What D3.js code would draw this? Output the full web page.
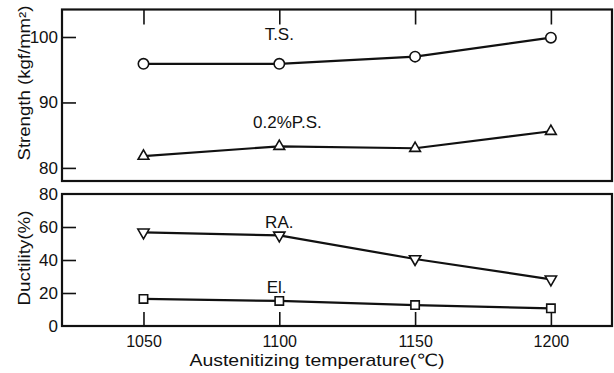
<!DOCTYPE html>
<html>
<head>
<meta charset="utf-8">
<script src="https://cdn.jsdelivr.net/npm/d3@7"></script>
<style>
  body { margin: 0; background: #fff; }
  svg { display: block; }
  text { font-family: "Liberation Sans", "DejaVu Sans", sans-serif; fill: #111; }
</style>
</head>
<body>
<div id="chart"></div>
<script>
const temps = [1050, 1100, 1150, 1200];
const tsValues = [95.9, 95.9, 97.0, 99.9];
const psValues = [81.8, 83.3, 83.0, 85.6];
const raValues = [56.8, 54.9, 40.6, 28.3];
const elValues = [16.4, 15.2, 12.7, 10.7];
const strengthTicks = [80, 90, 100];
const ductilityTicks = [0, 20, 40, 60, 80];

const width = 614, height = 373;
const left = 62, right = 612;

const svg = d3.select("#chart").append("svg")
  .attr("width", width)
  .attr("height", height);

const x = d3.scaleLinear().domain([1020, 1222.5]).range([left, right]);
const yTop = d3.scaleLinear().domain([78, 104.2]).range([181, 9.5]);
const yBot = d3.scaleLinear().domain([0, 80]).range([326, 194]);

// cadres des deux panneaux
function frame(y0, y1) {
  svg.append("rect")
    .attr("x", left).attr("y", y0)
    .attr("width", right - left).attr("height", y1 - y0)
    .attr("fill", "none").attr("stroke", "#111").attr("stroke-width", 2.2);
}
frame(9.5, 181);
frame(194, 326);

// panneau haut : graduations en haut, vers le bas
svg.append("g")
  .attr("transform", "translate(0,9.5)")
  .call(d3.axisBottom(x).tickValues(temps).tickSize(15).tickFormat(""))
  .call(g => g.select(".domain").remove())
  .call(g => g.selectAll("line").attr("stroke", "#111").attr("stroke-width", 1.6));

// panneau bas : graduations en bas, vers le haut
const xAxisBot = svg.append("g")
  .attr("transform", "translate(0,326)")
  .call(d3.axisTop(x).tickValues(temps).tickSize(14).tickFormat(d3.format("d")))
  .call(g => g.select(".domain").remove())
  .call(g => g.selectAll("line").attr("stroke", "#111").attr("stroke-width", 1.6));
xAxisBot.selectAll("text")
  .attr("y", 21).attr("dy", 0)
  .attr("font-size", 16)
  .style("font-family", '"Liberation Sans", sans-serif')
  .attr("fill", "#111");

function yAxis(scale, ticks, innerTicks) {
  const g = svg.append("g")
    .attr("transform", `translate(${left},0)`)
    .call(d3.axisRight(scale).tickValues(ticks).tickSize(14).tickFormat(""))
    .call(g => g.select(".domain").remove());
  g.selectAll("line")
    .attr("stroke", "#111").attr("stroke-width", 1.6)
    .attr("display", d => innerTicks.includes(d) ? null : "none");
  svg.append("g").selectAll("text")
    .data(ticks)
    .join("text")
    .attr("x", left - 4)
    .attr("y", d => scale(d) + 6)
    .attr("text-anchor", "end")
    .attr("font-size", 17)
    .text(d => d);
}
yAxis(yTop, strengthTicks, strengthTicks);
yAxis(yBot, ductilityTicks, [20, 40, 60]);

function series(scale, values) {
  const pts = temps.map((t, i) => [x(t), scale(values[i])]);
  svg.append("path")
    .attr("d", d3.line()(pts))
    .attr("fill", "none")
    .attr("stroke", "#111")
    .attr("stroke-width", 2.2);
  return pts;
}

const tsPts = series(yTop, tsValues);
const psPts = series(yTop, psValues);
const raPts = series(yBot, raValues);
const elPts = series(yBot, elValues);

function markers(pts, type, size, angle = 0) {
  svg.append("g").selectAll("path")
    .data(pts)
    .join("path")
    .attr("transform", d => `translate(${d[0]},${d[1]}) rotate(${angle})`)
    .attr("d", d3.symbol().type(type).size(size))
    .attr("fill", "#fff")
    .attr("stroke", "#111")
    .attr("stroke-width", 1.6);
}
markers(tsPts, d3.symbolCircle, 85);
markers(psPts, d3.symbolTriangle, 50);
markers(raPts, d3.symbolTriangle, 55, 180);
markers(elPts, d3.symbolSquare, 70);

const labels = [
  { text: "T.S.", x: 1100, v: 99.6, s: yTop },
  { text: "0.2%P.S.", x: 1103, v: 86.1, s: yTop },
  { text: "RA.", x: 1100, v: 59.5, s: yBot },
  { text: "El.", x: 1099, v: 19.9, s: yBot }
];
svg.append("g").selectAll("text")
  .data(labels)
  .join("text")
  .attr("x", d => x(d.x))
  .attr("y", d => d.s(d.v))
  .attr("text-anchor", "middle")
  .attr("font-size", 17)
  .text(d => d.text);

svg.append("text")
  .attr("transform", "translate(30,83) rotate(-90)")
  .attr("text-anchor", "middle")
  .attr("font-size", 16)
  .attr("textLength", 155)
  .attr("lengthAdjust", "spacingAndGlyphs")
  .text("Strength (kgf/mm²)");

svg.append("text")
  .attr("transform", "translate(30,258) rotate(-90)")
  .attr("text-anchor", "middle")
  .attr("font-size", 16)
  .attr("textLength", 95)
  .attr("lengthAdjust", "spacingAndGlyphs")
  .text("Ductility(%)");

svg.append("text")
  .attr("x", 317)
  .attr("y", 366)
  .attr("text-anchor", "middle")
  .attr("font-size", 17)
  .attr("textLength", 255)
  .attr("lengthAdjust", "spacingAndGlyphs")
  .text("Austenitizing temperature(℃)");
</script>
</body>
</html>
